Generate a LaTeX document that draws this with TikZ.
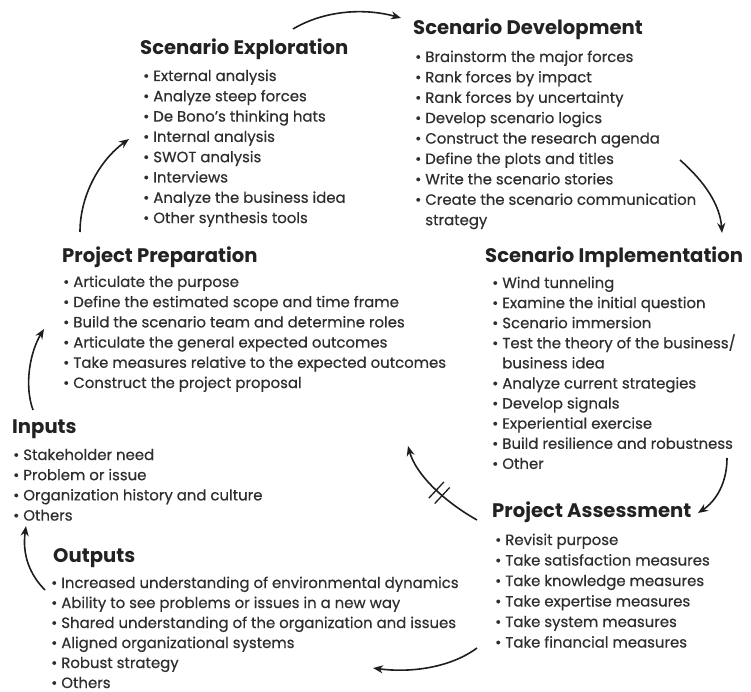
\documentclass[tikz,border=0pt]{standalone}
\usepackage{fontspec}
\setmainfont{Poppins}
\newfontfamily\itemface{Poppins}[FakeBold=0.5]
\usetikzlibrary{arrows.meta,decorations.markings}
\definecolor{txt}{HTML}{2E2E2E}
\definecolor{ttlc}{HTML}{222222}
\definecolor{arr}{HTML}{1E1E1E}
\newcommand\ttlfont{\fontsize{19.6}{24}\selectfont\bfseries\color{ttlc}}
\newcommand\itmfont{\itemface\fontsize{14.9}{20}\selectfont\color{txt}}
\newcommand\li[1]{\hbox{\textbullet\hspace{4pt}#1}}
\newcommand\lc[1]{\hbox{\phantom{\textbullet}\hspace{4pt}#1}}
\newcommand\blist[2]{\vtop{\baselineskip=#1pt\lineskiplimit=-100pt\lineskip=0pt\relax #2}}
\tikzset{
  ttl/.style={anchor=base west,inner sep=0pt,font=\ttlfont},
  itm/.style={anchor=base west,inner sep=0pt,font=\itmfont},
  flow/.style={draw=arr,line width=1.6pt,-{Stealth[length=10pt,width=8pt]}},
  slashmark/.style={postaction={decorate},decoration={markings,
    mark=at position 0.45 with {\draw[arr,line width=1.3pt,-] (-4,-11) -- (-4,11); \draw[arr,line width=1.3pt,-] (4,-11) -- (4,11);}}}
}
\begin{document}
\begin{tikzpicture}[x=1pt,y=-1pt]
\useasboundingbox (0,0) rectangle (751,692);
% Scenario Exploration
\node[ttl] (expT) at (140,55) {Scenario Exploration};
\node[itm] (expL) at (143,81) {\blist{20.3}{%
\li{External analysis}
\li{Analyze steep forces}
\li{De Bono’s thinking hats}
\li{Internal analysis}
\li{SWOT analysis}
\li{Interviews}
\li{Analyze the business idea}
\li{Other synthesis tools}}};
% Scenario Development
\node[ttl] (devT) at (413,35) {Scenario Development};
\node[itm] (devL) at (415,62) {\blist{20.4}{%
\li{Brainstorm the major forces}
\li{Rank forces by impact}
\li{Rank forces by uncertainty}
\li{Develop scenario logics}
\li{Construct the research agenda}
\li{Define the plots and titles}
\li{Write the scenario stories}
\li{Create the scenario communication}
\lc{strategy}}};
% Scenario Implementation
\node[ttl] (impT) at (485,262) {Scenario Implementation};
\node[itm] (impL) at (492,288) {\blist{20.1}{%
\li{Wind tunneling}
\li{Examine the initial question}
\li{Scenario immersion}
\li{Test the theory of the business/}
\lc{business idea}
\li{Analyze current strategies}
\li{Develop signals}
\li{Experiential exercise}
\li{Build resilience and robustness}
\li{Other}}};
% Project Assessment
\node[ttl] (assT) at (492,517) {Project Assessment};
\node[itm] (assL) at (495,545) {\blist{20.5}{%
\li{Revisit purpose}
\li{Take satisfaction measures}
\li{Take knowledge measures}
\li{Take expertise measures}
\li{Take system measures}
\li{Take financial measures}}};
% Project Preparation
\node[ttl] (preT) at (62,262) {Project Preparation};
\node[itm] (preL) at (63,287) {\blist{20.2}{%
\li{Articulate the purpose}
\li{Define the estimated scope and time frame}
\li{Build the scenario team and determine roles}
\li{Articulate the general expected outcomes}
\li{Take measures relative to the expected outcomes}
\li{Construct the project proposal}}};
% Inputs
\node[ttl] (inT) at (12,433) {Inputs};
\node[itm] (inL) at (13,460) {\blist{20.2}{%
\li{Stakeholder need}
\li{Problem or issue}
\li{Organization history and culture}
\li{Others}}};
% Outputs
\node[ttl] (outT) at (53,562) {Outputs};
\node[itm] (outL) at (51,588) {\blist{20}{%
\li{Increased understanding of environmental dynamics}
\li{Ability to see problems or issues in a new way}
\li{Shared understanding of the organization and issues}
\li{Aligned organizational systems}
\li{Robust strategy}
\li{Others}}};
% arrow end points
\coordinate (a1s) at (293,29);  \coordinate (a1e) at (401,18);
\coordinate (a2s) at (680,160); \coordinate (a2e) at (722,233);
\coordinate (a3s) at (727,458); \coordinate (a3e) at (698,513);
\coordinate (a4s) at (477,648); \coordinate (a4e) at (373,668);
\coordinate (a5s) at (45,590);  \coordinate (a5e) at (26,526);
\coordinate (a6s) at (33,410);  \coordinate (a6e) at (44,329);
\coordinate (a7s) at (80,232);  \coordinate (a7e) at (129,139);
\coordinate (a8s) at (477,520); \coordinate (a8e) at (408,446);
\draw[flow] (a1s) .. controls (325,10) and (365,8) .. (a1e);
\draw[flow] (a2s) .. controls (705,182) and (720,205) .. (a2e);
\draw[flow] (a3s) .. controls (727,483) and (716,501) .. (a3e);
\draw[flow] (a4s) .. controls (450,668) and (410,673) .. (a4e);
\draw[flow] (a5s) .. controls (30,575) and (22,555) .. (a5e);
\draw[flow] (a6s) .. controls (24,385) and (30,352) .. (a6e);
\draw[flow] (a7s) .. controls (80,195) and (100,160) .. (a7e);
\draw[flow,slashmark] (a8s) .. controls (445,502) and (416,475) .. (a8e);
\end{tikzpicture}
\end{document}
